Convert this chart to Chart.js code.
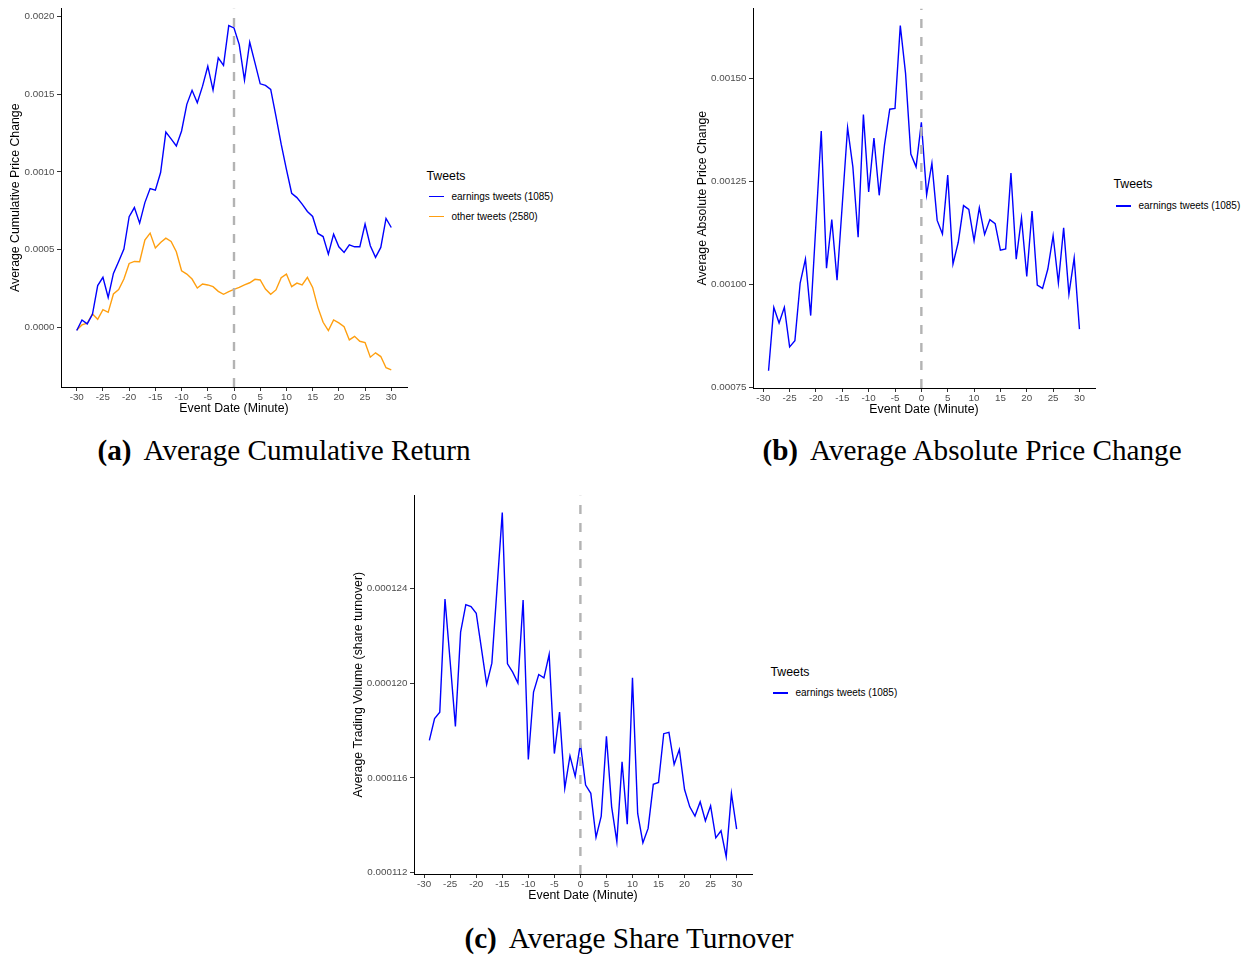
<!DOCTYPE html>
<html>
<head>
<meta charset="utf-8">
<script src="https://cdn.jsdelivr.net/npm/chart.js@4.4.1/dist/chart.umd.min.js"></script>
<style>
  body { margin: 0; background: #fff; }
  #page { position: relative; width: 1250px; height: 957px; overflow: hidden;
          font-family: "Liberation Sans", Arial, sans-serif; }
  .panel { position: absolute; }
  .legend { position: absolute; color: #000; }
  .legend .title { position: absolute; left: 0; font-size: 12.3px; line-height: 14px; white-space: nowrap; }
  .legend .key { position: absolute; height: 1.3px; width: 15px; }
  .legend .text { position: absolute; font-size: 10px; line-height: 12px; white-space: nowrap; }
  .caption { position: absolute; font-family: "Liberation Serif", "Times New Roman", serif;
             font-size: 29.2px; line-height: 29.2px; white-space: nowrap; transform: translateX(-50%); color: #000; }
  .caption span { margin-left: 12px; }
</style>
</head>
<body>
<div id="page">
  <div class="panel" id="wrapA" style="left:4px; top:0px; width:407px; height:420px;"><canvas id="chartA"></canvas></div>
  <div class="panel" id="wrapB" style="left:691px; top:0px; width:408px; height:421px;"><canvas id="chartB"></canvas></div>
  <div class="panel" id="wrapC" style="left:347px; top:487px; width:409px; height:420px;"><canvas id="chartC"></canvas></div>

  <div class="legend" id="legendA" style="left:426.5px; top:0px;"></div>
  <div class="legend" id="legendB" style="left:1113.5px; top:0px;"></div>
  <div class="legend" id="legendC" style="left:770.5px; top:0px;"></div>

  <div class="caption" style="left:284px; top:436px;"><b>(a)</b><span>Average Cumulative Return</span></div>
  <div class="caption" style="left:972px; top:436px;"><b>(b)</b><span>Average Absolute Price Change</span></div>
  <div class="caption" style="left:629px; top:924px;"><b>(c)</b><span>Average Share Turnover</span></div>
</div>

<script>
//=================================
// Data
//=================================

const minutesA = [-30,-29,-28,-27,-26,-25,-24,-23,-22,-21,-20,-19,-18,-17,-16,-15,-14,-13,-12,-11,
    -10,-9,-8,-7,-6,-5,-4,-3,-2,-1,0,1,2,3,4,5,6,7,8,9,10,11,12,13,14,15,16,17,18,19,20,
    21,22,23,24,25,26,27,28,29,30];

const minutesBC = [-29,-28,-27,-26,-25,-24,-23,-22,-21,-20,-19,-18,-17,-16,-15,-14,-13,-12,-11,
    -10,-9,-8,-7,-6,-5,-4,-3,-2,-1,0,1,2,3,4,5,6,7,8,9,10,11,12,13,14,15,16,17,18,19,20,
    21,22,23,24,25,26,27,28,29,30];

// (a) average cumulative price change
const earningsCumReturn = [-0.000019,0.000049,0.000024,0.000085,0.00027,0.000323,0.000194,0.000348,0.000425,0.000504,
    0.000712,0.000771,0.000671,0.000803,0.000893,0.000883,0.000996,0.001256,0.001212,0.001167,
    0.001263,0.001434,0.001524,0.001444,0.001551,0.001679,0.001526,0.001733,0.001684,0.00194,
    0.001925,0.001818,0.00159,0.001833,0.0017,0.001566,0.001556,0.00153,0.001359,0.001178,
    0.001017,0.000863,0.000835,0.000793,0.000746,0.000714,0.000605,0.000585,0.000472,0.0006,
    0.000519,0.000483,0.000532,0.000519,0.000519,0.000665,0.000526,0.000451,0.000515,0.000701,0.000643];

const otherCumReturn = [-0.000015,0.000017,0.000028,0.000088,0.000053,0.000115,0.000098,0.000216,0.000244,0.000312,
    0.000412,0.000425,0.000423,0.000562,0.000607,0.000511,0.000547,0.000575,0.000553,0.000487,
    0.000365,0.000344,0.000312,0.000254,0.00028,0.000274,0.000263,0.000233,0.000214,0.000231,
    0.000246,0.000258,0.000274,0.000288,0.00031,0.000306,0.000248,0.000214,0.000242,0.000321,
    0.000344,0.000263,0.000286,0.000274,0.000323,0.000258,0.00013,0.000034,-0.000019,0.000049,
    0.00003,0.000006,-0.000079,-0.000056,-0.000088,-0.000096,-0.00019,-0.000162,-0.000186,-0.000258,-0.000271];

// (b) average absolute price change
const earningsAbsChange = [0.000791,0.000945,0.000907,0.000945,0.000849,0.000864,0.001004,0.001062,0.000925,0.001149,
    0.001373,0.00104,0.001158,0.001011,0.001196,0.001381,0.001286,0.001115,0.001413,0.001225,
    0.001356,0.001217,0.001339,0.001426,0.001428,0.001629,0.001513,0.001317,0.001286,0.001394,
    0.001218,0.001295,0.001156,0.001123,0.001266,0.00105,0.001103,0.001192,0.001183,0.001107,
    0.001187,0.001122,0.001158,0.001148,0.001084,0.001087,0.001271,0.001062,0.001162,0.00102,
    0.001179,0.000999,0.000991,0.001038,0.001119,0.001004,0.001138,0.000977,0.001065,0.000892];

// (c) average share turnover
const earningsTurnover = [0.00011759,0.00011851,0.00011878,0.00012356,0.0001209,0.00011818,0.00012216,0.00012332,0.00012324,0.00012296,
    0.00012146,0.00011995,0.00012085,0.00012404,0.00012721,0.00012082,0.00012047,0.00012001,0.00012352,0.00011678,
    0.00011963,0.00012037,0.00012023,0.00012122,0.00011703,0.00011878,0.00011556,0.00011693,0.00011607,0.00011745,
    0.0001157,0.00011535,0.00011349,0.00011439,0.00011776,0.00011478,0.00011331,0.00011668,0.00011405,0.00012023,
    0.0001145,0.00011326,0.00011387,0.00011573,0.00011581,0.00011787,0.00011793,0.00011657,0.0001172,0.00011551,
    0.00011478,0.00011439,0.00011499,0.00011419,0.00011482,0.00011347,0.00011377,0.00011267,0.00011535,0.00011384];

const xTicks = [-30,-25,-20,-15,-10,-5,0,5,10,15,20,25,30];
const cumTicks = [0, 0.0005, 0.001, 0.0015, 0.002];
const absTicks = [0.00075, 0.001, 0.00125, 0.0015];
const turnoverTicks = [0.000112, 0.000116, 0.00012, 0.000124];

const earningsLabel = "earnings tweets (1085)";
const otherLabel = "other tweets (2580)";
const earningsColor = "#0000ff";
const otherColor = "#ff9f0f";

//=================================
// Helpers
//=================================

Chart.defaults.font.family = '"Liberation Sans", Arial, sans-serif';
Chart.defaults.color = "#4d4d4d";

//ggplot style 5% expansion of the data range
function expand(values) {
    let lo = Math.min(...values);
    let hi = Math.max(...values);
    let pad = (hi - lo) * 0.05;
    return [lo - pad, hi + pad];
}

function toPoints(xs, ys) {
    return xs.map((x, i) => ({x: x, y: ys[i]}));
}

function makeChart(canvasId, opts) {
    let xRange = expand(opts.xs);
    let yRange = expand([].concat(...opts.series.map(s => s.data)));

    let datasets = [{
        //event time marker
        data: [{x: 0, y: yRange[0]}, {x: 0, y: yRange[1]}],
        borderColor: "#b3b3b3",
        borderWidth: 2.4,
        borderDash: [9, 9],
        pointRadius: 0,
        order: 0
    }];
    opts.series.forEach(s => {
        datasets.push({
            label: s.label,
            data: toPoints(opts.xs, s.data),
            borderColor: s.color,
            borderWidth: 1.4,
            pointRadius: 0,
            tension: 0,
            order: 1
        });
    });

    const tickGrid = {drawOnChartArea: false, drawTicks: true, tickLength: 4, tickColor: "#333", tickWidth: 1};
    const border = {display: true, color: "#000", width: 1};
    const titleFont = {size: 12.3};

    return new Chart(document.getElementById(canvasId), {
        type: "line",
        data: {datasets: datasets},
        options: {
            responsive: true,
            maintainAspectRatio: false,
            animation: false,
            layout: {padding: {top: 7, right: 4, left: 0, bottom: 0}},
            plugins: {legend: {display: false}, tooltip: {enabled: false}},
            scales: {
                x: {
                    type: "linear",
                    min: xRange[0],
                    max: xRange[1],
                    grid: tickGrid,
                    border: border,
                    afterBuildTicks: scale => { scale.ticks = xTicks.map(v => ({value: v})); },
                    afterFit: scale => { scale.height = 33; },
                    ticks: {font: {size: 9.8}, padding: 0, maxRotation: 0, autoSkip: false, color: "#4d4d4d"},
                    title: {display: true, text: "Event Date (Minute)", color: "#000", font: titleFont, padding: {top: 4, bottom: 4}}
                },
                y: {
                    type: "linear",
                    min: yRange[0],
                    max: yRange[1],
                    grid: tickGrid,
                    border: border,
                    afterBuildTicks: scale => { scale.ticks = opts.yTicks.map(v => ({value: v})); },
                    afterFit: scale => { scale.width = opts.yAxisWidth; },
                    ticks: {font: {size: 9.8}, padding: 2.5, color: "#4d4d4d",
                        callback: v => Number(v).toFixed(opts.yDigits)},
                    title: {display: true, text: opts.yTitle, color: "#000", font: titleFont, padding: {top: 4, bottom: 4}}
                }
            }
        }
    });
}

//legend in the ggplot layout, to the right of each panel
function makeLegend(elId, series, titleY, itemY) {
    let el = document.getElementById(elId);
    let html = '<div class="title" style="top:' + (titleY - 7) + 'px">Tweets</div>';
    series.forEach((s, i) => {
        let y = itemY + i * 20;
        html += '<div class="key" style="left:2.5px; top:' + (y - 0.7) + 'px; background:' + s.color + '"></div>';
        html += '<div class="text" style="left:25px; top:' + (y - 6) + 'px">' + s.label + '</div>';
    });
    el.innerHTML = html;
}

//=================================
// Panels
//=================================

const seriesA = [
    {label: earningsLabel, data: earningsCumReturn, color: earningsColor},
    {label: otherLabel, data: otherCumReturn, color: otherColor}
];
const seriesB = [{label: earningsLabel, data: earningsAbsChange, color: earningsColor}];
const seriesC = [{label: earningsLabel, data: earningsTurnover, color: earningsColor}];

makeChart("chartA", {xs: minutesA, series: seriesA, yTicks: cumTicks, yDigits: 4,
    yTitle: "Average Cumulative Price Change", yAxisWidth: 57});
makeChart("chartB", {xs: minutesBC, series: seriesB, yTicks: absTicks, yDigits: 5,
    yTitle: "Average Absolute Price Change", yAxisWidth: 62});
makeChart("chartC", {xs: minutesBC, series: seriesC, yTicks: turnoverTicks, yDigits: 6,
    yTitle: "Average Trading Volume (share turnover)", yAxisWidth: 67});

makeLegend("legendA", seriesA, 175.5, 196.5);
makeLegend("legendB", seriesB, 184, 206);
makeLegend("legendC", seriesC, 672, 693);
</script>
</body>
</html>
